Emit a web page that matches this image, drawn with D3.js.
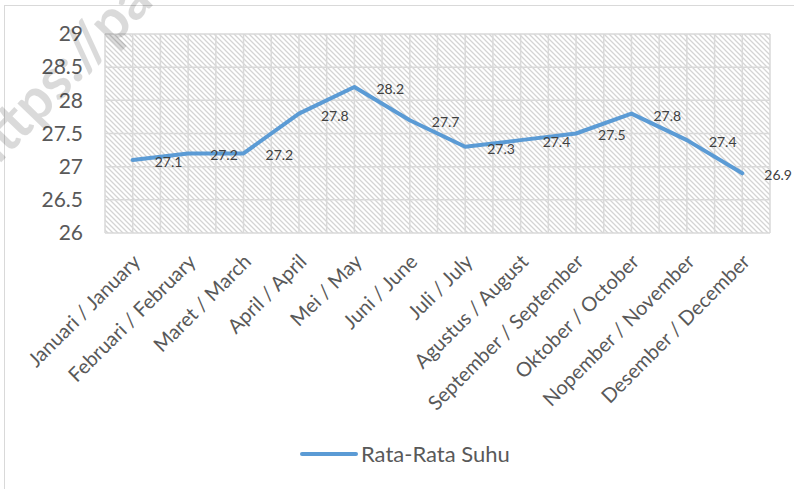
<!DOCTYPE html>
<html>
<head>
<meta charset="utf-8">
<script src="https://cdn.jsdelivr.net/npm/d3@7"></script>
<style>
  body { margin: 0; background: #fff; }
  svg { display: block; font-family: Lato, "Open Sans", sans-serif; }
</style>
</head>
<body>
<svg id="chart" width="794" height="489"></svg>
<script>
// Data
const months = ["Januari / January", "Februari / February", "Maret / March", "April / April",
                "Mei / May", "Juni / June", "Juli / July", "Agustus / August",
                "September / September", "Oktober / October", "Nopember / November", "Desember / December"];
const suhu = [27.1, 27.2, 27.2, 27.8, 28.2, 27.7, 27.3, 27.4, 27.5, 27.8, 27.4, 26.9];
const yTicks = [26, 26.5, 27, 27.5, 28, 28.5, 29];
const seriesName = "Rata-Rata Suhu";

// Layout
const plot = { left: 105, right: 770, top: 34, bottom: 233 },
        lineColor = "#5b9bd5",
        gridColor = "#d9d9d9",
        textColor = "#595959";

var svg = d3.select("#chart");

// Hatch pattern for the plot area
var defs = svg.append("defs");
var pat = defs.append("pattern")
    .attr("id", "hatch")
    .attr("patternUnits", "userSpaceOnUse")
    .attr("width", 5)
    .attr("height", 5);
pat.append("path")
    .attr("d", "M-1,-1 L6,6 M-1,4 L1,6 M4,-1 L6,1")
    .attr("stroke", "#d4d4d4")
    .attr("stroke-width", 1.3);

// Chart area border
svg.append("rect")
    .attr("x", 4.5).attr("y", 5.5)
    .attr("width", 820).attr("height", 520)
    .attr("fill", "none")
    .attr("stroke", gridColor);

// Scales
var x = d3.scaleBand().domain(months).range([plot.left, plot.right]);
var y = d3.scaleLinear().domain([26, 29]).range([plot.bottom, plot.top]);
var cx = function (m) { return x(m) + x.bandwidth() / 2; };

svg.append("rect")
    .attr("x", plot.left).attr("y", plot.top)
    .attr("width", plot.right - plot.left)
    .attr("height", plot.bottom - plot.top)
    .attr("fill", "url(#hatch)");

// Gridlines : horizontal at every tick, vertical at band edges and centers
var grid = svg.append("g").attr("stroke", gridColor).attr("stroke-width", 1.5);
grid.selectAll("line.h")
    .data(yTicks)
    .enter().append("line")
    .attr("x1", plot.left).attr("x2", plot.right)
    .attr("y1", function (d) { return y(d); })
    .attr("y2", function (d) { return y(d); });

var vLines = [];
months.forEach(function (m) { vLines.push(x(m)); vLines.push(cx(m)); });
vLines.push(plot.right);
grid.selectAll("line.v")
    .data(vLines)
    .enter().append("line")
    .attr("x1", function (d) { return d; })
    .attr("x2", function (d) { return d; })
    .attr("y1", plot.top).attr("y2", plot.bottom);

// Y axis labels
var yAxis = svg.append("g")
    .attr("transform", "translate(" + (plot.left - 22) + ",0)")
    .call(d3.axisLeft(y).tickValues(yTicks).tickSize(0).tickPadding(0).tickFormat(d3.format("")));
yAxis.select(".domain").remove();
yAxis.selectAll("text")
    .attr("fill", textColor)
    .style("font-size", "21px")
    .style("font-family", "Lato, sans-serif");

// X axis labels, rotated
var xAxis = svg.append("g")
    .attr("transform", "translate(0," + plot.bottom + ")")
    .call(d3.axisBottom(x).tickSize(0).tickPadding(0));
xAxis.select(".domain").remove();
xAxis.selectAll("text")
    .attr("fill", textColor)
    .style("font-size", "20px")
    .style("font-family", "Lato, sans-serif")
    .attr("text-anchor", "end")
    .attr("dy", "0.35em")
    .attr("y", 0)
    .attr("transform", "translate(4,25) rotate(-45)");

// Line
var line = d3.line()
    .x(function (d, i) { return cx(months[i]); })
    .y(function (d) { return y(d); });

svg.append("path")
    .datum(suhu)
    .attr("d", line)
    .attr("fill", "none")
    .attr("stroke", lineColor)
    .attr("stroke-width", 4)
    .attr("stroke-linejoin", "round")
    .attr("stroke-linecap", "round");

// Data labels (right of each point)
svg.append("g")
    .selectAll("text")
    .data(suhu)
    .enter().append("text")
    .attr("x", function (d, i) { return cx(months[i]) + 22; })
    .attr("y", function (d) { return y(d) + 2; })
    .attr("dy", "0.35em")
    .attr("fill", "#404040")
    .style("font-size", "14px")
    .text(function (d) { return d.toFixed(1); });

// Legend
var legend = svg.append("g").attr("transform", "translate(302,454)");
legend.append("line")
    .attr("x1", 0).attr("x2", 54)
    .attr("stroke", lineColor)
    .attr("stroke-width", 4)
    .attr("stroke-linecap", "round");
legend.append("text")
    .attr("x", 59)
    .attr("dy", "0.35em")
    .attr("fill", textColor)
    .style("font-size", "22px")
    .text(seriesName);

// Watermark
svg.append("text")
    .attr("transform", "translate(-14,178) rotate(-46)")
    .attr("fill", "#000")
    .attr("opacity", 0.14)
    .style("font-size", "57px")
    .style("font-weight", "bold")
    .text("https://pa");
</script>
</body>
</html>
